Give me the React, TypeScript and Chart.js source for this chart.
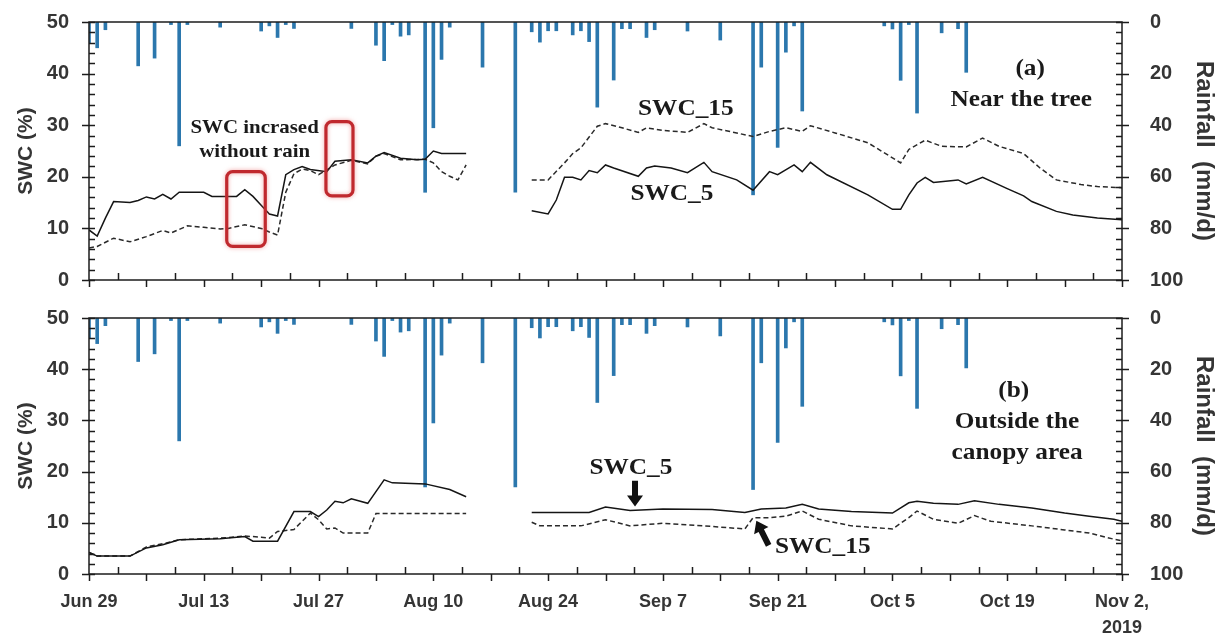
import React, { useEffect, useRef } from 'react';
import { Chart, registerables } from 'chart.js';

Chart.register(...registerables);

// ---- X axis (days since Jun 29, 2019) ----
const xTickDays = [0, 14, 28, 42, 56, 70, 84, 98, 112, 126];
const xTickLabels: (string | string[])[] = ['Jun 29', 'Jul 13', 'Jul 27', 'Aug 10', 'Aug 24', 'Sep 7', 'Sep 21', 'Oct 5', 'Oct 19', ['Nov 2,', '2019']];

// ---- Daily rainfall (mm/d) ----
const rainDays = [0, 1, 2, 6, 8, 10, 11, 12, 16, 21, 22, 23, 24, 25, 32, 35, 36, 37, 38, 39, 41, 42, 43, 44, 48, 52, 54, 55, 56, 57, 59, 60, 61, 62, 64, 65, 66, 68, 69, 73, 77, 81, 82, 84, 85, 86, 87, 97, 98, 99, 100, 101, 104, 106, 107];
const rainMm = [8, 10, 3, 17, 14, 1, 48, 1, 2, 3.5, 1.5, 6, 1, 2.5, 2.5, 9, 15, 1, 5.5, 5, 66, 41, 14.5, 2, 17.5, 66, 3.8, 7.8, 3.4, 3.4, 5, 3.4, 7.6, 33, 22.5, 2.6, 2.6, 6, 3, 3.5, 7, 67, 17.5, 48.6, 11.7, 1.5, 34.5, 1.5, 2.7, 22.6, 1, 35.3, 4.2, 2.6, 19.5];

// ---- (a) Near the tree ----
const top5Days = [0, 1, 2, 3, 5, 6, 7, 8, 9, 10, 11, 14, 15, 18, 19, 20, 21, 22, 23, 24, 25, 26, 27, 29, 30, 32, 34, 35, 36, 38, 40, 41, 42, 43, 46, 50, 54, 56, 57, 58, 59, 60, 61, 62, 63, 64, 67, 68, 69, 71, 73, 75, 76, 79, 81, 83, 84, 86, 87, 88, 90, 95, 98, 99, 100, 101, 102, 103, 106, 107, 109, 112, 114, 115, 118, 120, 123, 126];
const top5Vals = [9.7, 8.5, 12, 15.2, 15.0, 15.4, 16.1, 15.7, 16.6, 15.7, 17.0, 17.0, 16.2, 16.2, 17.5, 16.2, 14.5, 12.8, 12.4, 20.4, 21.4, 22.0, 21.4, 21.0, 23.0, 23.3, 22.7, 24.0, 24.7, 23.6, 23.3, 23.4, 25.0, 24.5, 24.5, null, 13.4, 12.8, 15.5, 19.9, 19.9, 19.4, 21.2, 20.8, 22.3, 21.7, 20.1, 21.7, 22.1, 21.7, 20.8, 22.8, 21.0, 19.4, 17.4, 21.0, 20.4, 22.3, 21.0, 22.8, 20.4, 16.5, 13.7, 13.7, 16.5, 18.8, 19.9, 18.9, 19.4, 18.6, 19.9, 17.7, 16.3, 15.2, 13.3, 12.6, 12.0, 11.7];
const top15Days = [0, 1, 3, 5, 7, 9, 10, 12, 14, 16, 17, 19, 21, 22, 23, 24, 25, 26, 27, 28, 30, 32, 34, 35, 36, 38, 41, 42, 43, 44, 45, 46, 50, 54, 56, 58, 59, 60, 62, 63, 65, 67, 68, 70, 73, 75, 76, 79, 81, 83, 85, 87, 88, 91, 95, 99, 100, 102, 104, 107, 109, 111, 114, 116, 118, 121, 123, 126];
const top15Vals = [6.2, 6.5, 8.1, 7.4, 8.4, 9.6, 9.1, 10.5, 10.2, 9.9, 10.0, 10.7, 10.0, 9.3, 8.7, 17.0, 20.6, 21.5, 21.2, 20.4, 22.3, 23.2, 22.5, 24.0, 24.5, 23.3, 23.4, 22.7, 21.0, 20.1, 19.4, 22.3, null, 19.4, 19.4, 22.7, 24.5, 25.6, 29.8, 30.3, 29.5, 28.6, 29.5, 29.0, 28.6, 30.3, 29.5, 28.5, 27.8, 28.8, 29.5, 28.8, 29.9, 28.5, 26.6, 22.7, 25.3, 27.1, 25.9, 25.8, 27.5, 25.9, 24.5, 21.7, 19.4, 18.5, 18.1, 17.9];

// ---- (b) Outside the canopy area ----
const bot5Days = [0, 1, 5, 7, 9, 11, 16, 19, 20, 23, 25, 27, 28, 29, 30, 31, 32, 34, 36, 37, 41, 44, 46, 50, 54, 61, 63, 66, 70, 76, 80, 82, 85, 87, 89, 93, 98, 100, 101, 103, 106, 108, 111, 115, 119, 122, 125, 126];
const bot5Vals = [4.2, 3.5, 3.5, 5.1, 5.7, 6.7, 6.9, 7.3, 6.4, 6.4, 12.2, 12.2, 11.2, 12.5, 14.2, 13.9, 14.7, 13.8, 18.4, 17.8, 17.6, 16.5, 15.1, null, 12.0, 12.0, 13.1, 12.4, 12.7, 12.6, 12.0, 12.7, 12.9, 13.6, 12.7, 12.2, 11.9, 13.9, 14.2, 13.8, 13.6, 14.3, 13.6, 12.9, 11.9, 11.3, 10.7, 10.3];
const bot15Days = [0, 1, 5, 7, 9, 11, 16, 19, 21, 22, 23, 25, 26, 27, 28, 29, 30, 31, 34, 35, 46, 50, 54, 55, 60, 63, 66, 70, 75, 80, 81, 83, 85, 87, 89, 93, 98, 100, 101, 103, 106, 108, 110, 115, 119, 122, 125, 126];
const bot15Vals = [4.2, 3.5, 3.5, 5.3, 5.9, 6.7, 7.0, 7.4, 7.2, 7.0, 8.3, 8.7, 10.3, 11.9, 10.6, 8.8, 9.0, 8.0, 8.0, 11.8, 11.8, null, 10.1, 9.4, 9.4, 10.6, 9.4, 9.9, 9.4, 8.8, 11.0, 11.0, 11.3, 12.3, 10.7, 9.4, 8.8, 11.0, 12.3, 10.7, 9.9, 11.4, 10.3, 9.4, 8.6, 8.0, 6.8, 6.5];

const pts = (d: number[], v: (number | null)[]) => d.map((x, i) => ({ x, y: v[i] }));

const SERIF = '"Liberation Serif", "DejaVu Serif", serif';
const SANS = '"Liberation Sans", Arial, sans-serif';
const AXIS_COLOR = '#1c1c1c';
const LABEL_COLOR = '#353535';
const BAR_COLOR = '#2b77ad';

type TextItem = { text: string; x: number; y: number; size: number };
type BoxItem = { x1: number; x2: number; y1: number; y2: number };
type ArrowItem = { x1: number; y1: number; x2: number; y2: number };

function makeFramePlugin(texts: TextItem[], boxes: BoxItem[], arrows: ArrowItem[]) {
  return {
    id: 'frame',
    afterDatasetsDraw(chart: any) {
      const { ctx, chartArea: a, scales } = chart;
      const xs = scales.x, ys = scales.y, ry = scales.y2;
      ctx.save();
      // frame
      ctx.strokeStyle = AXIS_COLOR;
      ctx.lineWidth = 1.5;
      ctx.strokeRect(a.left, a.top, a.right - a.left, a.bottom - a.top);
      ctx.beginPath();
      // left axis ticks
      for (let v = 0; v <= 50; v += 2) {
        const y = Math.round(ys.getPixelForValue(v)) + 0.5;
        const major = v % 10 === 0;
        ctx.moveTo(major ? a.left - 7 : a.left, y);
        ctx.lineTo(a.left + 6, y);
      }
      // right axis ticks
      for (let v = 0; v <= 100; v += 4) {
        const y = Math.round(ry.getPixelForValue(v)) + 0.5;
        const major = v % 20 === 0;
        ctx.moveTo(a.right - 6, y);
        ctx.lineTo(major ? a.right + 7 : a.right, y);
      }
      // x ticks
      for (let d = 0; d <= 126; d += 3.5) {
        const x = Math.round(xs.getPixelForValue(d)) + 0.5;
        if (d % 7 === 0) {
          ctx.moveTo(x, a.bottom);
          ctx.lineTo(x, a.bottom + 7);
        } else {
          ctx.moveTo(x, a.bottom - 7);
          ctx.lineTo(x, a.bottom);
        }
      }
      ctx.stroke();

      // red boxes
      boxes.forEach((b) => {
        const x1 = xs.getPixelForValue(b.x1), x2 = xs.getPixelForValue(b.x2);
        const y1 = ys.getPixelForValue(b.y1), y2 = ys.getPixelForValue(b.y2);
        ctx.save();
        ctx.strokeStyle = '#c0292e';
        ctx.lineWidth = 3.2;
        ctx.shadowColor = 'rgba(230,90,90,0.55)';
        ctx.shadowBlur = 4;
        ctx.beginPath();
        ctx.roundRect(x1, y1, x2 - x1, y2 - y1, 6);
        ctx.stroke();
        ctx.restore();
      });

      // arrows
      arrows.forEach((ar) => {
        const x1 = xs.getPixelForValue(ar.x1), y1 = ys.getPixelForValue(ar.y1);
        const x2 = xs.getPixelForValue(ar.x2), y2 = ys.getPixelForValue(ar.y2);
        const ang = Math.atan2(y2 - y1, x2 - x1);
        const len = Math.hypot(x2 - x1, y2 - y1);
        const headL = 11, headW = 8, shaftW = 3;
        ctx.save();
        ctx.translate(x1, y1);
        ctx.rotate(ang);
        ctx.fillStyle = '#111';
        ctx.beginPath();
        ctx.moveTo(0, -shaftW);
        ctx.lineTo(len - headL, -shaftW);
        ctx.lineTo(len - headL, -headW);
        ctx.lineTo(len, 0);
        ctx.lineTo(len - headL, headW);
        ctx.lineTo(len - headL, shaftW);
        ctx.lineTo(0, shaftW);
        ctx.closePath();
        ctx.fill();
        ctx.restore();
      });

      // texts (slightly widened serif, like the original figure)
      ctx.fillStyle = '#1a1a1a';
      ctx.textAlign = 'center';
      ctx.textBaseline = 'middle';
      texts.forEach((t) => {
        ctx.save();
        ctx.font = `bold ${t.size}px ${SERIF}`;
        ctx.translate(xs.getPixelForValue(t.x), ys.getPixelForValue(t.y));
        ctx.scale(1.1, 1);
        ctx.fillText(t.text, 0, 0);
        ctx.restore();
      });
      ctx.restore();
    },
  };
}

function buildConfig(
  s5: { x: number; y: number | null }[],
  s15: { x: number; y: number | null }[],
  showX: boolean,
  padTop: number,
  xHeight: number,
  plugin: any
): any {
  const tickFont = { family: SANS, size: 20, weight: 'bold' as const };
  const noGrid = { display: false, drawTicks: false };
  return {
    type: 'bar',
    data: {
      datasets: [
        {
          type: 'line', label: 'SWC_5', data: s5, yAxisID: 'y', xAxisID: 'x',
          borderColor: '#151515', borderWidth: 1.5, pointRadius: 0, tension: 0, spanGaps: false, order: 1,
        },
        {
          type: 'line', label: 'SWC_15', data: s15, yAxisID: 'y', xAxisID: 'x',
          borderColor: '#2a2a2a', borderWidth: 1.5, borderDash: [5, 3], pointRadius: 0, tension: 0, spanGaps: false, order: 1,
        },
        {
          type: 'bar', label: 'Rainfall', data: pts(rainDays, rainMm), yAxisID: 'y2', xAxisID: 'x',
          backgroundColor: BAR_COLOR, barThickness: 3, order: 2,
        },
      ],
    },
    options: {
      responsive: false,
      animation: false,
      layout: { padding: { top: padTop, left: 0, right: 0, bottom: 0 } },
      plugins: { legend: { display: false }, tooltip: { enabled: false } },
      scales: {
        x: {
          type: 'linear', min: 0, max: 126, offset: false,
          grid: noGrid, border: { display: false },
          afterBuildTicks: (s: any) => { s.ticks = xTickDays.map((v) => ({ value: v })); },
          ticks: {
            display: showX, autoSkip: false, maxRotation: 0, padding: 15, color: LABEL_COLOR,
            font: { family: SANS, size: 18, weight: 'bold', lineHeight: 1.45 },
            callback: (_v: any, i: number) => xTickLabels[i],
          },
          afterFit: (s: any) => { s.height = xHeight; },
        },
        y: {
          position: 'left', min: 0, max: 50,
          grid: noGrid, border: { display: false },
          ticks: { stepSize: 10, padding: 20, color: LABEL_COLOR, font: tickFont },
          title: { display: true, text: 'SWC (%)', color: LABEL_COLOR, font: { family: SANS, size: 21, weight: 'bold' }, padding: { top: 14, bottom: 0 } },
          afterFit: (s: any) => { s.width = 89; s.paddingTop = 0; s.paddingBottom = 0; },
        },
        y2: {
          position: 'right', min: 0, max: 100, reverse: true,
          grid: noGrid, border: { display: false },
          ticks: { stepSize: 20, padding: 28, color: LABEL_COLOR, font: tickFont },
          title: { display: true, text: 'Rainfall  (mm/d)', color: LABEL_COLOR, font: { family: SANS, size: 24, weight: 'bold' }, padding: { top: 5, bottom: 0 } },
          afterFit: (s: any) => { s.width = 101; s.paddingTop = 0; s.paddingBottom = 0; },
        },
      },
    },
    plugins: [plugin],
  };
}

export default function App() {
  const topRef = useRef<HTMLCanvasElement>(null);
  const botRef = useRef<HTMLCanvasElement>(null);

  useEffect(() => {
    const topPlugin = makeFramePlugin(
      [
        { text: 'SWC incrased', x: 20.2, y: 29.5, size: 19 },
        { text: 'without rain', x: 20.2, y: 24.7, size: 19 },
        { text: 'SWC_15', x: 72.8, y: 33.1, size: 23 },
        { text: 'SWC_5', x: 71.1, y: 16.6, size: 23 },
        { text: '(a)', x: 114.8, y: 40.8, size: 23 },
        { text: 'Near the tree', x: 113.7, y: 34.9, size: 23 },
      ],
      [
        { x1: 16.8, x2: 21.5, y1: 21.0, y2: 6.5 },
        { x1: 28.9, x2: 32.2, y1: 30.7, y2: 16.3 },
      ],
      []
    );
    const botPlugin = makeFramePlugin(
      [
        { text: '(b)', x: 112.8, y: 35.8, size: 23 },
        { text: 'Outside the', x: 113.2, y: 29.6, size: 23 },
        { text: 'canopy area', x: 113.2, y: 23.7, size: 23 },
        { text: 'SWC_5', x: 66.1, y: 20.7, size: 23 },
        { text: 'SWC_15', x: 89.5, y: 5.2, size: 23 },
      ],
      [],
      [
        { x1: 66.6, y1: 18.2, x2: 66.6, y2: 13.2 },
        { x1: 82.9, y1: 5.6, x2: 81.4, y2: 10.4 },
      ]
    );
    const c1 = new Chart(topRef.current as HTMLCanvasElement, buildConfig(pts(top5Days, top5Vals), pts(top15Days, top15Vals), false, 22, 20, topPlugin));
    const c2 = new Chart(botRef.current as HTMLCanvasElement, buildConfig(pts(bot5Days, bot5Vals), pts(bot15Days, bot15Vals), true, 18, 65, botPlugin));
    return () => {
      c1.destroy();
      c2.destroy();
    };
  }, []);

  return (
    <div style={{ position: 'absolute', left: 0, top: 0, width: 1223, height: 639, background: '#ffffff' }}>
      <canvas ref={topRef} width={1223} height={300} style={{ position: 'absolute', left: 0, top: 0, width: 1223, height: 300 }} />
      <canvas ref={botRef} width={1223} height={339} style={{ position: 'absolute', left: 0, top: 300, width: 1223, height: 339 }} />
    </div>
  );
}
